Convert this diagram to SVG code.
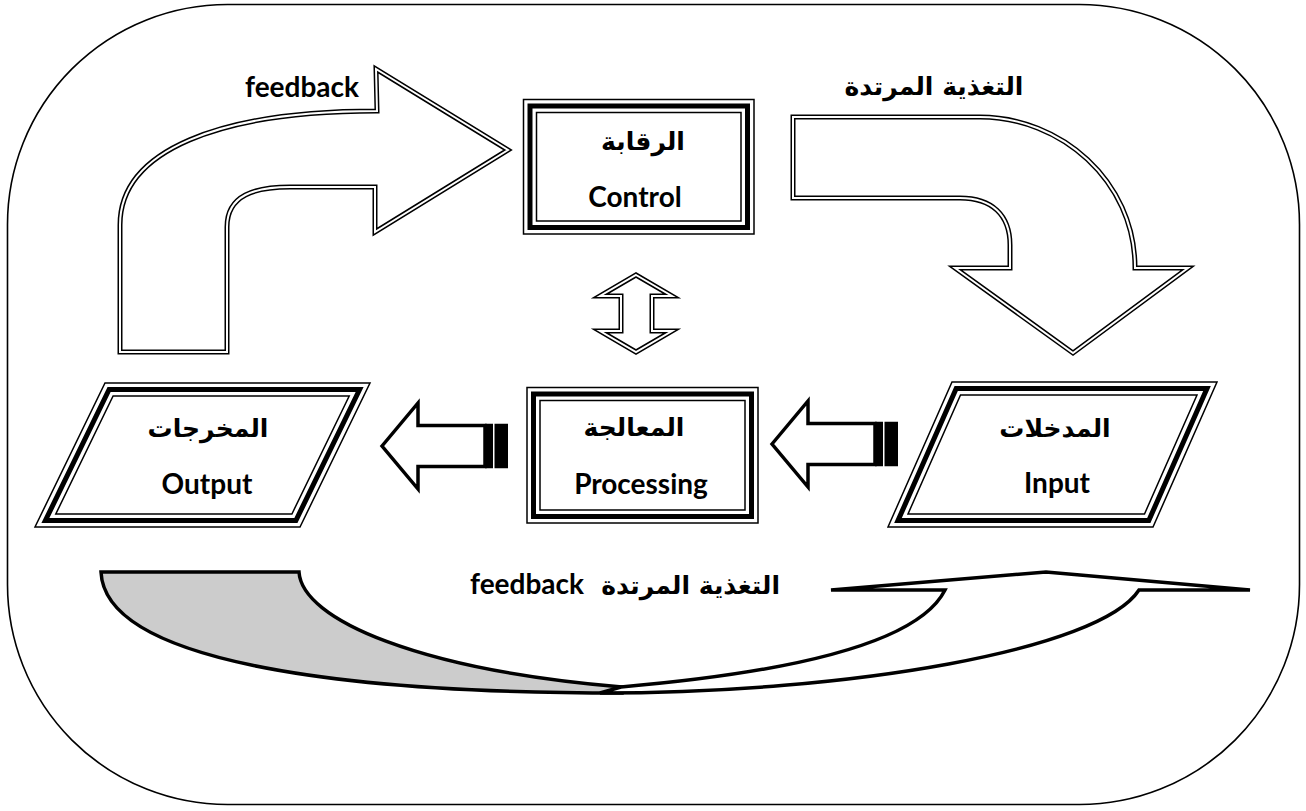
<svg xmlns="http://www.w3.org/2000/svg" xmlns:xlink="http://www.w3.org/1999/xlink" width="1306" height="811" viewBox="0 0 1306 811">
  <style>
    .frame { fill: #fff; stroke: #000; stroke-width: 1.6; }
    .dbl-o { fill: #fff; stroke: #000; stroke-width: 5; stroke-linejoin: miter; }
    .dbl-i { fill: none; stroke: #fff; stroke-width: 2; stroke-linejoin: miter; }
    .b1 { fill: #fff; stroke: #000; stroke-width: 1.5; }
    .b2 { fill: none; stroke: #000; stroke-width: 5; }
    .b3 { fill: none; stroke: #000; stroke-width: 1.5; }
    .solid { fill: #fff; stroke: #000; stroke-width: 3.5; stroke-linejoin: miter; }
    .band { stroke: #000; stroke-width: 3.5; stroke-linejoin: miter; }
    .t { font-family: Lato, "DejaVu Sans", sans-serif; font-weight: bold; fill: #000; }
    .lat { font-size: 28px; }
    .ar { font-size: 25px; font-family: "DejaVu Sans", sans-serif; }
    .mid { text-anchor: middle; }
  </style>
  <defs>
    <path id="feedbackArrow" d="M 120 352 L 120 225 C 120 150 220 111 377 111 L 376 69 L 508 150 L 375 232 L 375 187 L 290 187 C 255 187 227 195 227 227 L 227 352 Z"/>
    <path id="feedforwardArrow" d="M 793 117 L 980 117 C 1060 117 1135 180 1135 268 L 1188 268 L 1073 353 L 955 268 L 1010 268 L 1010 245 C 1010 215 992 198 960 198 L 793 198 Z"/>
    <path id="updownArrow" d="M 636 275 L 672 296 L 652 296 L 652 331 L 672 331 L 636 352 L 600 331 L 621 331 L 621 296 L 600 296 Z"/>
  </defs>

  <!-- outer rounded frame -->
  <rect class="frame" x="7.5" y="4.5" width="1292" height="800" rx="220" ry="220"/>

  <g id="connectors">
    <!-- feedback: output back to control -->
    <g id="arrow-feedback">
      <use xlink:href="#feedbackArrow" class="dbl-o"/>
      <use xlink:href="#feedbackArrow" class="dbl-i"/>
    </g>
    <!-- control to input -->
    <g id="arrow-control-input">
      <use xlink:href="#feedforwardArrow" class="dbl-o"/>
      <use xlink:href="#feedforwardArrow" class="dbl-i"/>
    </g>
    <!-- control <-> processing -->
    <g id="arrow-control-processing">
      <use xlink:href="#updownArrow" class="dbl-o"/>
      <use xlink:href="#updownArrow" class="dbl-i"/>
    </g>
    <!-- input to processing (striped arrow) -->
    <g id="arrow-input-processing">
      <path class="solid" d="M 772 444 L 808 401 L 808 423.5 L 875 423.5 L 875 464.5 L 808 464.5 L 808 487 Z"/>
      <rect x="875" y="421.75" width="8" height="44.5" fill="#000"/>
      <rect x="884.5" y="421.75" width="13.5" height="44.5" fill="#000"/>
    </g>
    <!-- processing to output (striped arrow) -->
    <g id="arrow-processing-output">
      <path class="solid" d="M 382 446 L 418 403 L 418 425.5 L 485 425.5 L 485 466.5 L 418 466.5 L 418 489 Z"/>
      <rect x="485" y="423.75" width="8" height="44.5" fill="#000"/>
      <rect x="494.5" y="423.75" width="13.5" height="44.5" fill="#000"/>
    </g>
    <!-- bottom curved feedback arrow -->
    <g id="arrow-bottom-feedback">
      <path class="band" fill="#cccccc" d="M 101 572 L 299 572 C 302 620 420 670 622 687 L 622 693 C 330 693 105 660 101 572 Z"/>
      <path class="band" fill="#fff" d="M 621 687 C 760 675 915 650 945 590 L 831 590 L 1046 572 L 1250 590 L 1139 590 C 1100 650 850 693 600 693 Z"/>
    </g>
  </g>

  <!-- labels on arrows -->
  <text class="t lat" x="245" y="97">feedback</text>
  <text class="t ar mid" x="934" y="95">التغذية المرتدة</text>
  <text class="t lat" x="470" y="594">feedback</text>
  <text class="t ar" x="780" y="594" text-anchor="end">التغذية المرتدة</text>

  <g id="node-control">
    <rect class="b1" x="523.5" y="99.5" width="230.5" height="134.5"/>
    <rect class="b2" x="530" y="106" width="217.5" height="121.5"/>
    <rect class="b3" x="536.5" y="112.5" width="204.5" height="108.5"/>
    <text class="t ar mid" x="643" y="150">الرقابة</text>
    <text class="t lat mid" x="635" y="207">Control</text>
  </g>

  <g id="node-processing">
    <rect class="b1" x="527" y="387.5" width="231" height="135.5"/>
    <rect class="b2" x="533.5" y="394" width="218" height="122.5"/>
    <rect class="b3" x="540" y="400.5" width="205" height="109.5"/>
    <text class="t ar mid" x="634" y="436">المعالجة</text>
    <text class="t lat mid" x="641" y="494">Processing</text>
  </g>

  <g id="node-output">
    <polygon class="b1" points="105,383 370,383 300,527 35,527"/>
    <polygon class="b2" points="109.1,389.5 359.6,389.5 295.9,520.5 45.4,520.5"/>
    <polygon class="b3" points="113.1,396 349.2,396 291.9,514 55.8,514"/>
    <text class="t ar mid" x="208" y="437">المخرجات</text>
    <text class="t lat mid" x="207" y="494">Output</text>
  </g>

  <g id="node-input">
    <polygon class="b1" points="952,382 1217,382 1153,527 888,527"/>
    <polygon class="b2" points="956.2,388.5 1207,388.5 1148.8,520.5 898,520.5"/>
    <polygon class="b3" points="960.5,395 1197,395 1144.5,514 908,514"/>
    <text class="t ar mid" x="1055" y="437">المدخلات</text>
    <text class="t lat mid" x="1057" y="493">Input</text>
  </g>
</svg>
